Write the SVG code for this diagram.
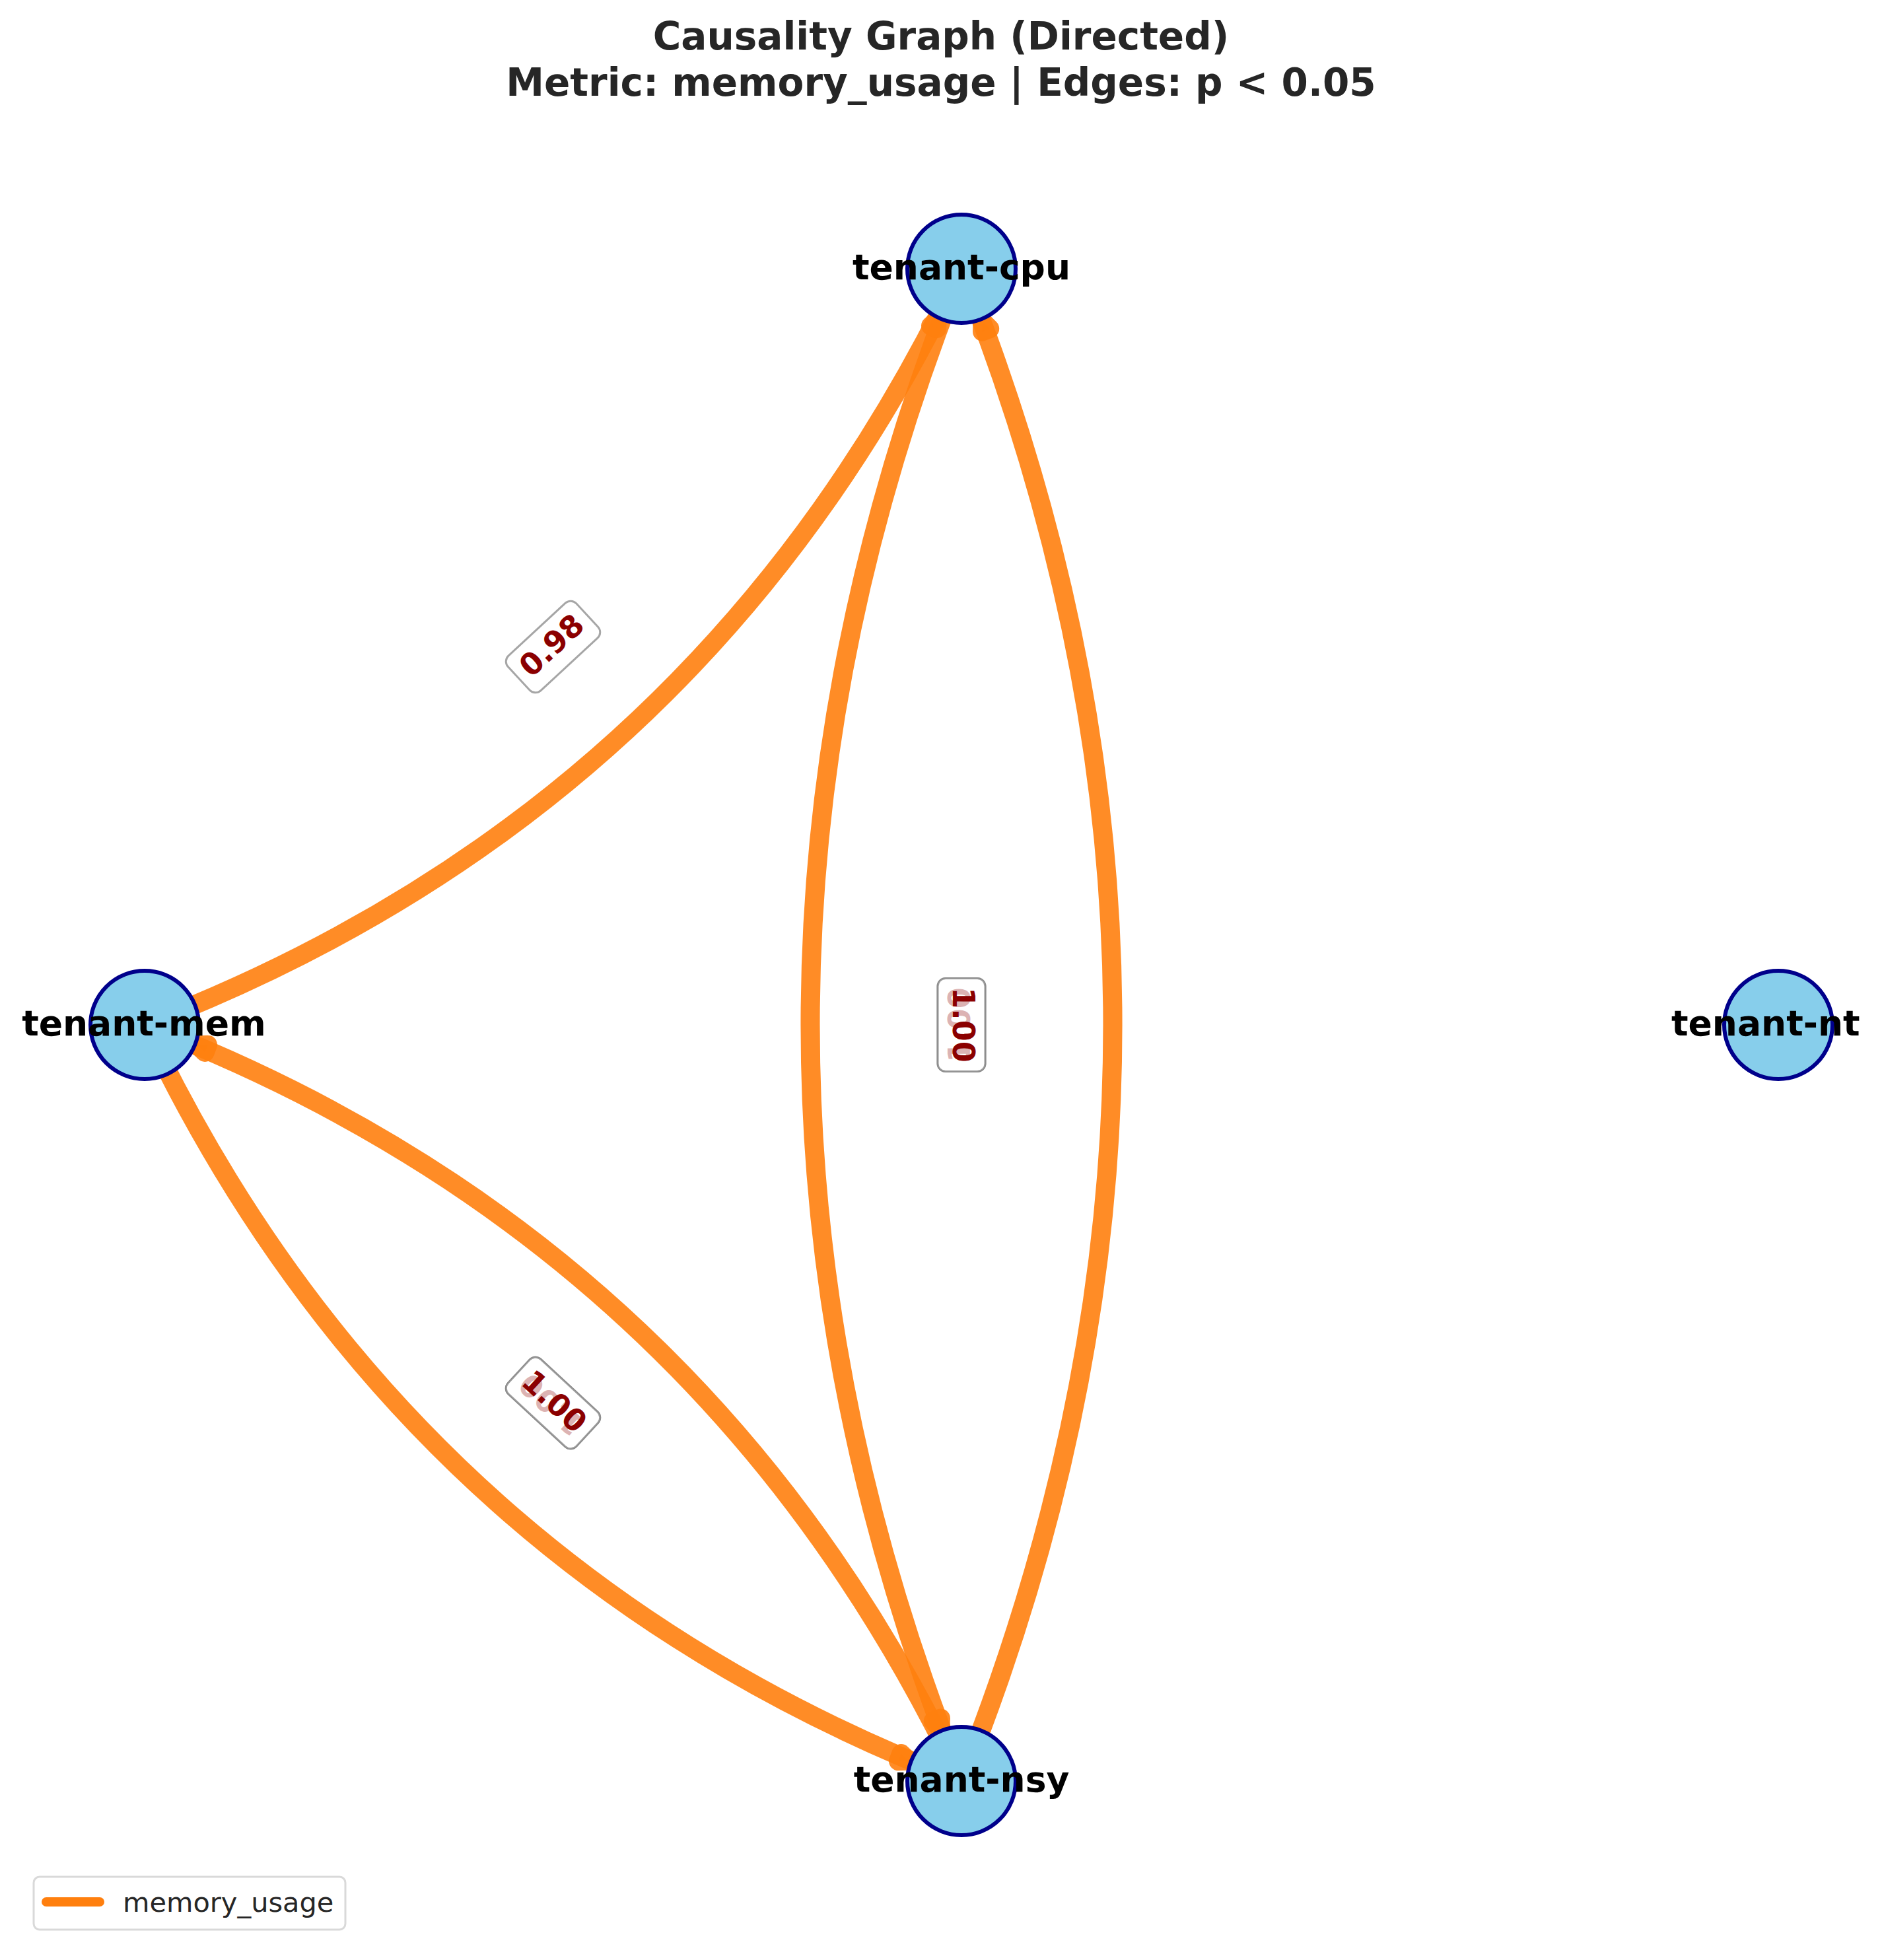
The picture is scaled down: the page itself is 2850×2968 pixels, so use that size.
<svg xmlns="http://www.w3.org/2000/svg" width="2850" height="2968" viewBox="0 0 2850 2968">
  <style>
    .title { font-family: "DejaVu Sans", "Liberation Sans", sans-serif; font-weight: bold; font-size: 58px; fill: #262626; text-anchor: middle; }
    .edge { fill: none; stroke: #ff7f0e; stroke-opacity: 0.9; stroke-width: 29; stroke-linecap: round; }
    .head { fill: #ff7f0e; fill-opacity: 0.9; stroke: #ff7f0e; stroke-opacity: 0.9; stroke-width: 29; stroke-linejoin: round; }
    .node circle { fill: #87ceeb; stroke: #00008b; stroke-width: 6; }
    .nlabel { font-family: "DejaVu Sans", "Liberation Sans", sans-serif; font-weight: bold; font-size: 53.5px; fill: #000000; text-anchor: middle; }
    .ebox { fill: #ffffff; fill-opacity: 0.7; stroke: #808080; stroke-opacity: 0.7; stroke-width: 3; }
    .elabel { font-family: "DejaVu Sans", "Liberation Sans", sans-serif; font-weight: bold; font-size: 46px; fill: #8b0000; text-anchor: middle; }
    .legend-box { fill: #ffffff; stroke: #d9d9d9; stroke-width: 3; }
    .legend-text { font-family: "DejaVu Sans", "Liberation Sans", sans-serif; font-size: 41.5px; fill: #262626; }
  </style>
  <defs>
    <g id="lbl-100">
      <rect class="ebox" x="-70.5" y="-36" width="141" height="72" rx="12"/>
      <text class="elabel" x="0" y="12.7">1.00</text>
    </g>
  </defs>

  <!-- title -->
  <text class="title" x="1425" y="75">Causality Graph (Directed)</text>
  <text class="title" x="1425" y="145">Metric: memory_usage | Edges: p &lt; 0.05</text>

  <!-- connectors: arc3 curves (rad 0.2) between node centres, heads at the target -->
  <g id="edges">
    <path class="edge" d="M219,1552 Q1066.5,1226.9 1456,407"/>
    <path class="edge" d="M1456,407 Q998,1552 1456,2697"/>
    <path class="edge" d="M1456,2697 Q1914,1552 1456,407"/>
    <path class="edge" d="M219,1552 Q608.5,2371.9 1456,2697"/>
    <path class="edge" d="M1456,2697 Q1066.5,1877.1 219,1552"/>
    <polygon class="head" points="1419.1,484.7 1418.5,497.6 1409.5,493.4"/>
    <polygon class="head" points="1487.9,486.9 1498.7,497.7 1487.5,502.1"/>
    <polygon class="head" points="1424.1,2617.1 1424.5,2601.9 1413.3,2606.3"/>
    <polygon class="head" points="1375.7,2666.2 1364.7,2655.6 1360.5,2666.8"/>
    <polygon class="head" points="299.3,1582.8 310.3,1593.4 314.5,1582.2"/>
  </g>

  <!-- edge weight labels at the straight-line midpoints -->
  <g id="edge-labels">
    <g transform="translate(837.5,979.5) rotate(-42.8)">
      <rect class="ebox" x="-70.5" y="-36" width="141" height="72" rx="12"/>
      <text class="elabel" x="0" y="12.7">0.98</text>
    </g>
    <g transform="translate(837.5,2124.5)">
      <use href="#lbl-100" transform="rotate(222.8)"/>
      <use href="#lbl-100" transform="rotate(42.8)"/>
    </g>
    <g transform="translate(1456,1552)">
      <use href="#lbl-100" transform="rotate(270)"/>
      <use href="#lbl-100" transform="rotate(90)"/>
    </g>
  </g>

  <!-- nodes -->
  <g id="node-tenant-cpu" class="node">
    <circle cx="1456" cy="407" r="82"/>
    <text class="nlabel" x="1456" y="423">tenant-cpu</text>
  </g>
  <g id="node-tenant-mem" class="node">
    <circle cx="219" cy="1552" r="82"/>
    <text class="nlabel" x="218" y="1568">tenant-mem</text>
  </g>
  <g id="node-tenant-nsy" class="node">
    <circle cx="1456" cy="2697" r="82"/>
    <text class="nlabel" x="1456" y="2713">tenant-nsy</text>
  </g>
  <g id="node-tenant-nt" class="node">
    <circle cx="2693" cy="1552" r="82"/>
    <text class="nlabel" x="2531" y="1568" style="text-anchor:start">tenant-nt</text>
  </g>

  <!-- legend -->
  <g id="legend">
    <rect class="legend-box" x="51" y="2842" width="472" height="80" rx="9"/>
    <line x1="70" y1="2880" x2="151" y2="2880" stroke="#ff7f0e" stroke-width="14" stroke-linecap="round"/>
    <text class="legend-text" x="186" y="2895">memory_usage</text>
  </g>
</svg>
